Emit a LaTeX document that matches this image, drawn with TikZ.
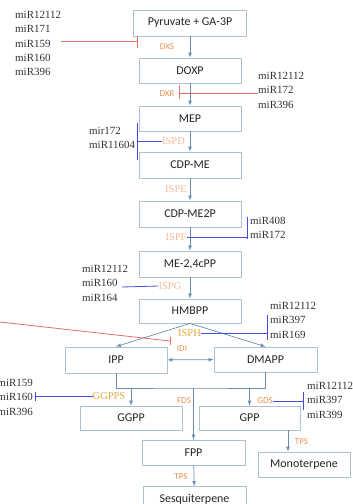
\documentclass[tikz,border=0pt]{standalone}
\usepackage{fontspec}
\setmainfont{Liberation Serif}
\newfontfamily\boxfont{Carlito}
\definecolor{boxline}{RGB}{172,194,212}
\definecolor{flowblue}{RGB}{105,140,182}
\definecolor{inhibred}{RGB}{222,112,102}
\definecolor{inhibblue}{RGB}{70,74,222}
\definecolor{enzorange}{RGB}{226,146,82}
\definecolor{enzpeach}{RGB}{240,186,152}
\definecolor{enzgold}{RGB}{228,168,62}
\begin{document}
\begin{tikzpicture}[>=latex,line join=bevel,
  stage/.style={draw=boxline,line width=0.8pt,fill=white,minimum width=102bp,minimum height=25bp,inner sep=0pt,font=\boxfont\fontsize{12}{14}\selectfont,text=black!85},
  enz/.style={inner sep=0pt,font=\boxfont\fontsize{9}{10}\selectfont,text=enzorange},
  enzserif/.style={inner sep=0pt,font=\fontsize{10.5}{12}\selectfont,text=enzpeach},
  mirs/.style={inner sep=0pt,align=left,font=\fontsize{11}{14.5}\selectfont,text=black!80},
  flow/.style={color=flowblue,line width=0.7pt},
  redline/.style={color=inhibred,line width=0.8pt},
  blueline/.style={color=inhibblue,line width=0.8pt}]
\useasboundingbox (0bp,0bp) rectangle (353bp,-504bp);
%%
\node (node_pyr) at (190bp,-23bp) [stage,minimum width=113bp,minimum height=26bp] {Pyruvate + GA-3P};
  \node (node_doxp) at (190bp,-70.5bp) [stage] {DOXP};
  \node (node_mep) at (190bp,-118.5bp) [stage] {MEP};
  \node (node_cdpme) at (190bp,-165bp) [stage,minimum height=26bp] {CDP-ME};
  \node (node_cdpme2p) at (190bp,-214bp) [stage,minimum height=26bp] {CDP-ME2P};
  \node (node_mecpp) at (190bp,-264bp) [stage,minimum height=26bp] {ME-2,4cPP};
  \node (node_hmbpp) at (190bp,-311bp) [stage,minimum height=24bp] {HMBPP};
  \node (node_ipp) at (116bp,-360bp) [stage,minimum height=26bp] {IPP};
  \node (node_dmapp) at (265.5bp,-359.5bp) [stage,minimum width=103bp] {DMAPP};
  \node (node_ggpp) at (131bp,-418bp) [stage,minimum height=24bp] {GGPP};
  \node (node_gpp) at (249.5bp,-418bp) [stage,minimum width=101bp,minimum height=24bp] {GPP};
  \node (node_fpp) at (193.5bp,-452.5bp) [stage,minimum width=103bp] {FPP};
  \node (node_mono) at (304bp,-464.5bp) [stage,minimum width=92bp] {Monoterpene};
  \node (node_sesq) at (194.5bp,-499bp) [stage,minimum width=103bp] {Sesquiterpene};
%
\node (node_dxs) at (167bp,-47bp) [enz] {DXS};
  \node (node_dxr) at (167bp,-94bp) [enz] {DXR};
  \node (node_ispd) at (173.5bp,-141bp) [enzserif] {ISPD};
  \node (node_ispe) at (176bp,-189bp) [enzserif] {ISPE};
  \node (node_ispf) at (176bp,-237bp) [enzserif] {ISPF};
  \node (node_ispg) at (170bp,-286bp) [enzserif] {ISPG};
  \node (node_isph) at (189.5bp,-333bp) [enzserif,text=enzgold] {ISPH};
  \node (node_idi) at (182bp,-349bp) [enz] {IDI};
  \node (node_ggpps) at (109bp,-396bp) [enzserif,text=enzgold] {GGPPS};
  \node (node_fds) at (184bp,-401bp) [enz] {FDS};
  \node (node_gds) at (265bp,-401bp) [enz] {GDS};
  \node (node_tpsa) at (301.5bp,-442bp) [enz] {TPS};
  \node (node_tpsb) at (181bp,-477bp) [enz] {TPS};
%
\node (node_mir_dxs) at (15bp,-43.5bp) [mirs,anchor=west] {miR12112\\miR171\\miR159\\miR160\\miR396};
  \node (node_mir_dxr) at (258bp,-90bp) [mirs,anchor=west] {miR12112\\miR172\\miR396};
  \node (node_mir_ispd) at (89bp,-138bp) [mirs,anchor=west] {mir172\\miR11604};
  \node (node_mir_ispf) at (250bp,-228bp) [mirs,anchor=west] {miR408\\miR172};
  \node (node_mir_ispg) at (82bp,-283bp) [mirs,anchor=west] {miR12112\\miR160\\miR164};
  \node (node_mir_isph) at (270bp,-320bp) [mirs,anchor=west] {miR12112\\miR397\\miR169};
  \node (node_mir_ggpps) at (33bp,-397bp) [mirs,anchor=east] {miR159\\miR160\\miR396};
  \node (node_mir_gds) at (307bp,-400bp) [mirs,anchor=west] {miR12112\\miR397\\miR399};
%
\coordinate (bar_dxs) at (137bp,-41bp);
  \coordinate (bar_dxr) at (179bp,-93bp);
  \coordinate (bar_ispd) at (137bp,-141bp);
  \coordinate (bar_ispf) at (247bp,-237bp);
  \coordinate (c_ispg) at (122bp,-287bp);
  \coordinate (bar_isph) at (267bp,-333bp);
  \coordinate (c_idi) at (0bp,-322bp);
  \coordinate (bar_idi) at (170bp,-341bp);
  \coordinate (bar_ggpps) at (35bp,-396bp);
  \coordinate (bar_gds) at (303bp,-401bp);
  \coordinate (c_bus) at (190bp,-388bp);
%
\draw [flow,->] (node_pyr) -- (node_doxp);
  \draw [flow,->] (node_doxp) -- (node_mep);
  \draw [flow,->] (node_mep) -- (node_cdpme);
  \draw [flow,->] (node_cdpme) -- (node_cdpme2p);
  \draw [flow,->] (node_cdpme2p) -- (node_mecpp);
  \draw [flow,->] (node_mecpp) -- (node_hmbpp);
  \draw [flow,->] (node_hmbpp.south) -- (node_ipp.north);
  \draw [flow,->] (node_hmbpp.south) -- (node_dmapp.north);
  \draw [flow,<->] (node_ipp) -- (node_dmapp);
  \draw [flow] (node_ipp.south) |- (c_bus) -| (node_dmapp.south);
  \draw [flow,->] (node_ggpp.north |- c_bus) -- (node_ggpp.north);
  \draw [flow,->] (node_fpp.north |- c_bus) -- (node_fpp.north);
  \draw [flow,->] (node_gpp.north |- c_bus) -- (node_gpp.north);
  \draw [flow,->] ([xshift=38.5bp]node_gpp.south) -- ([xshift=38.5bp]node_gpp.south |- node_mono.north);
  \draw [flow,->] (node_fpp) -- (node_sesq);
%
\draw [redline] (node_mir_dxs.east |- bar_dxs) -- (bar_dxs);
  \draw [redline] (bar_dxs) ++(0bp,5bp) -- ++(0bp,-12bp);
  \draw [redline] (node_mir_dxr.west |- bar_dxr) -- (bar_dxr);
  \draw [redline] (bar_dxr) ++(0bp,8bp) -- ++(0bp,-14bp);
  \draw [blueline] (node_ispd.west) -- (bar_ispd);
  \draw [blueline] (bar_ispd) ++(0bp,18bp) -- ++(0bp,-37bp);
  \draw [blueline] (node_ispf.east) -- (bar_ispf);
  \draw [blueline] (bar_ispf) ++(0bp,20bp) -- ++(0bp,-22bp);
  \draw [blueline] (c_ispg) -- (node_ispg.west);
  \draw [blueline] (node_isph.east) -- (bar_isph);
  \draw [blueline] (bar_isph) ++(0bp,18bp) -- ++(0bp,-25bp);
  \draw [redline] (c_idi) -- (bar_idi);
  \draw [redline] (bar_idi) ++(0bp,4bp) -- ++(0bp,-8bp);
  \draw [blueline] (bar_ggpps) -- (node_ggpps.west);
  \draw [blueline] (bar_ggpps) ++(0bp,4bp) -- ++(0bp,-9bp);
  \draw [blueline] (node_gds.east) -- (bar_gds);
  \draw [blueline] (bar_gds) ++(0bp,9bp) -- ++(0bp,-18bp);
%
\end{tikzpicture}
\end{document}
